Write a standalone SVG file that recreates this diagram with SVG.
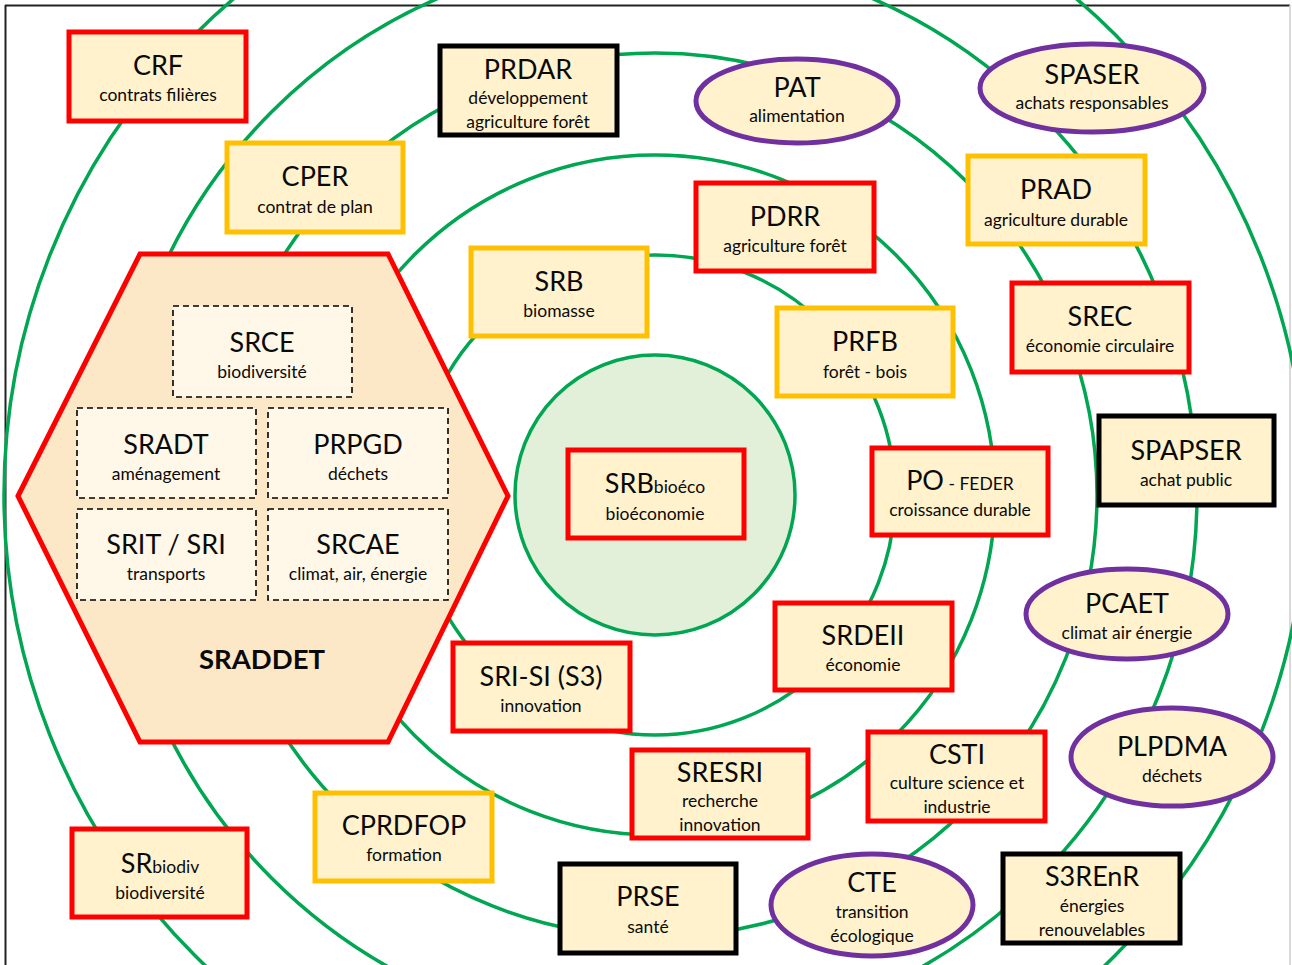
<svg xmlns="http://www.w3.org/2000/svg" width="1292" height="965" viewBox="0 0 1292 965">
<style>
.ring{fill:none;stroke:#00A651;stroke-width:3.5}
.box{fill:#FFF2CC;stroke-width:5}
.red{stroke:#FF0000}
.yel{stroke:#FFC000}
.blk{stroke:#000000}
.ell{fill:#FFF2CC;stroke:#7030A0;stroke-width:5}
.dash{fill:#FFF8E8;stroke:#000;stroke-width:1.6;stroke-dasharray:6 4}
text{font-family:Lato,"Open Sans","Liberation Sans",sans-serif;fill:#0a0a0a;text-anchor:middle}
.t{font-size:27px}
.s{font-size:17.5px}
.b{font-size:27.5px;font-weight:bold}
</style>
<rect x="0" y="0" width="1292" height="965" fill="#ffffff"/>
<line x1="5" y1="5.5" x2="1290" y2="5.5" stroke="#222" stroke-width="2"/>
<line x1="5.5" y1="5" x2="5.5" y2="965" stroke="#222" stroke-width="2"/>
<line x1="1290" y1="5" x2="1290" y2="965" stroke="#ccc" stroke-width="1.5"/>
<g id="rings">
<circle cx="655" cy="495" r="140" fill="#E2F0D9" stroke="#00A651" stroke-width="3.5"/>
<circle class="ring" cx="655" cy="495" r="240"/>
<circle class="ring" cx="655" cy="495" r="340"/>
<circle class="ring" cx="655" cy="495" r="442"/>
<circle class="ring" cx="655" cy="495" r="542"/>
<circle class="ring" cx="655" cy="495" r="651"/>
</g>
<g id="SRADDET">
<polygon points="18,496 140,254 388,254 508,496 388,742 140,742" fill="#FCE8C6" stroke="#FF0000" stroke-width="5"/>
<g id="SRCE"><rect class="dash" x="173" y="306" width="179" height="91"/><text class="t" x="262" y="352">SRCE</text><text class="s" x="262" y="378">biodiversité</text></g>
<g id="SRADT"><rect class="dash" x="77" y="408" width="179" height="90"/><text class="t" x="166" y="454">SRADT</text><text class="s" x="166" y="480">aménagement</text></g>
<g id="PRPGD"><rect class="dash" x="268" y="408" width="180" height="90"/><text class="t" x="358" y="454">PRPGD</text><text class="s" x="358" y="480">déchets</text></g>
<g id="SRIT"><rect class="dash" x="77" y="509" width="179" height="91"/><text class="t" x="166" y="554">SRIT / SRI</text><text class="s" x="166" y="580">transports</text></g>
<g id="SRCAE"><rect class="dash" x="268" y="509" width="180" height="91"/><text class="t" x="358" y="554">SRCAE</text><text class="s" x="358" y="580">climat, air, énergie</text></g>
<text class="b" x="262" y="669">SRADDET</text>
</g>
<g id="CRF"><rect class="box red" x="69" y="32" width="177" height="89"/><text class="t" x="158" y="75">CRF</text><text class="s" x="158" y="101">contrats filières</text></g>
<g id="PRDAR"><rect class="box blk" x="440" y="46" width="177" height="89"/><text class="t" x="528" y="79">PRDAR</text><text class="s" x="528" y="104">développement</text><text class="s" x="528" y="128">agriculture forêt</text></g>
<g id="CPER"><rect class="box yel" x="227" y="143" width="176" height="89"/><text class="t" x="315" y="186">CPER</text><text class="s" x="315" y="213">contrat de plan</text></g>
<g id="SRB"><rect class="box yel" x="471" y="248" width="176" height="88"/><text class="t" x="559" y="291">SRB</text><text class="s" x="559" y="317">biomasse</text></g>
<g id="PAT"><ellipse class="ell" cx="797" cy="101" rx="101" ry="42"/><text class="t" x="797" y="97">PAT</text><text class="s" x="797" y="122">alimentation</text></g>
<g id="SPASER"><ellipse class="ell" cx="1092" cy="88" rx="112" ry="44"/><text class="t" x="1092" y="84">SPASER</text><text class="s" x="1092" y="109">achats responsables</text></g>
<g id="PDRR"><rect class="box red" x="696" y="183" width="178" height="88"/><text class="t" x="785" y="226">PDRR</text><text class="s" x="785" y="252">agriculture forêt</text></g>
<g id="PRAD"><rect class="box yel" x="968" y="156" width="177" height="88"/><text class="t" x="1056" y="199">PRAD</text><text class="s" x="1056" y="226">agriculture durable</text></g>
<g id="SREC"><rect class="box red" x="1012" y="283" width="177" height="89"/><text class="t" x="1100" y="326">SREC</text><text class="s" x="1100" y="352">économie circulaire</text></g>
<g id="PRFB"><rect class="box yel" x="777" y="308" width="176" height="88"/><text class="t" x="865" y="351">PRFB</text><text class="s" x="865" y="378">forêt - bois</text></g>
<g id="SPAPSER"><rect class="box blk" x="1099" y="416" width="175" height="89"/><text class="t" x="1186" y="460">SPAPSER</text><text class="s" x="1186" y="486">achat public</text></g>
<g id="PO"><rect class="box red" x="872" y="448" width="176" height="87"/><text x="960" y="490"><tspan font-size="27px">PO</tspan><tspan font-size="17.5px"> - FEDER</tspan></text><text class="s" x="960" y="516">croissance durable</text></g>
<g id="SRBbioeco"><rect class="box red" x="568" y="450" width="176" height="88"/><text x="655" y="493"><tspan font-size="27px">SRB</tspan><tspan font-size="17.5px">bioéco</tspan></text><text class="s" x="655" y="520">bioéconomie</text></g>
<g id="PCAET"><ellipse class="ell" cx="1127" cy="614" rx="101" ry="45"/><text class="t" x="1127" y="613">PCAET</text><text class="s" x="1127" y="639">climat air énergie</text></g>
<g id="SRDEII"><rect class="box red" x="775" y="603" width="177" height="87"/><text class="t" x="863" y="645">SRDEII</text><text class="s" x="863" y="671">économie</text></g>
<g id="SRISI"><rect class="box red" x="453" y="643" width="177" height="88"/><text class="t" x="541" y="686">SRI-SI (S3)</text><text class="s" x="541" y="712">innovation</text></g>
<g id="PLPDMA"><ellipse class="ell" cx="1172" cy="757" rx="101" ry="49"/><text class="t" x="1172" y="756">PLPDMA</text><text class="s" x="1172" y="782">déchets</text></g>
<g id="CSTI"><rect class="box red" x="868" y="732" width="177" height="89"/><text class="t" x="957" y="764">CSTI</text><text class="s" x="957" y="789">culture science et</text><text class="s" x="957" y="813">industrie</text></g>
<g id="SRESRI"><rect class="box red" x="632" y="750" width="176" height="88"/><text class="t" x="720" y="782">SRESRI</text><text class="s" x="720" y="807">recherche</text><text class="s" x="720" y="831">innovation</text></g>
<g id="CPRDFOP"><rect class="box yel" x="315" y="793" width="177" height="88"/><text class="t" x="404" y="835">CPRDFOP</text><text class="s" x="404" y="861">formation</text></g>
<g id="SRbiodiv"><rect class="box red" x="72" y="829" width="175" height="88"/><text x="160" y="873"><tspan font-size="27px">SR</tspan><tspan font-size="17.5px">biodiv</tspan></text><text class="s" x="160" y="899">biodiversité</text></g>
<g id="PRSE"><rect class="box blk" x="560" y="864" width="176" height="89"/><text class="t" x="648" y="906">PRSE</text><text class="s" x="648" y="933">santé</text></g>
<g id="CTE"><ellipse class="ell" cx="872" cy="905" rx="101" ry="51"/><text class="t" x="872" y="892">CTE</text><text class="s" x="872" y="918">transition</text><text class="s" x="872" y="942">écologique</text></g>
<g id="S3REnR"><rect class="box blk" x="1003" y="854" width="177" height="89"/><text class="t" x="1092" y="886">S3REnR</text><text class="s" x="1092" y="912">énergies</text><text class="s" x="1092" y="936">renouvelables</text></g>
</svg>
